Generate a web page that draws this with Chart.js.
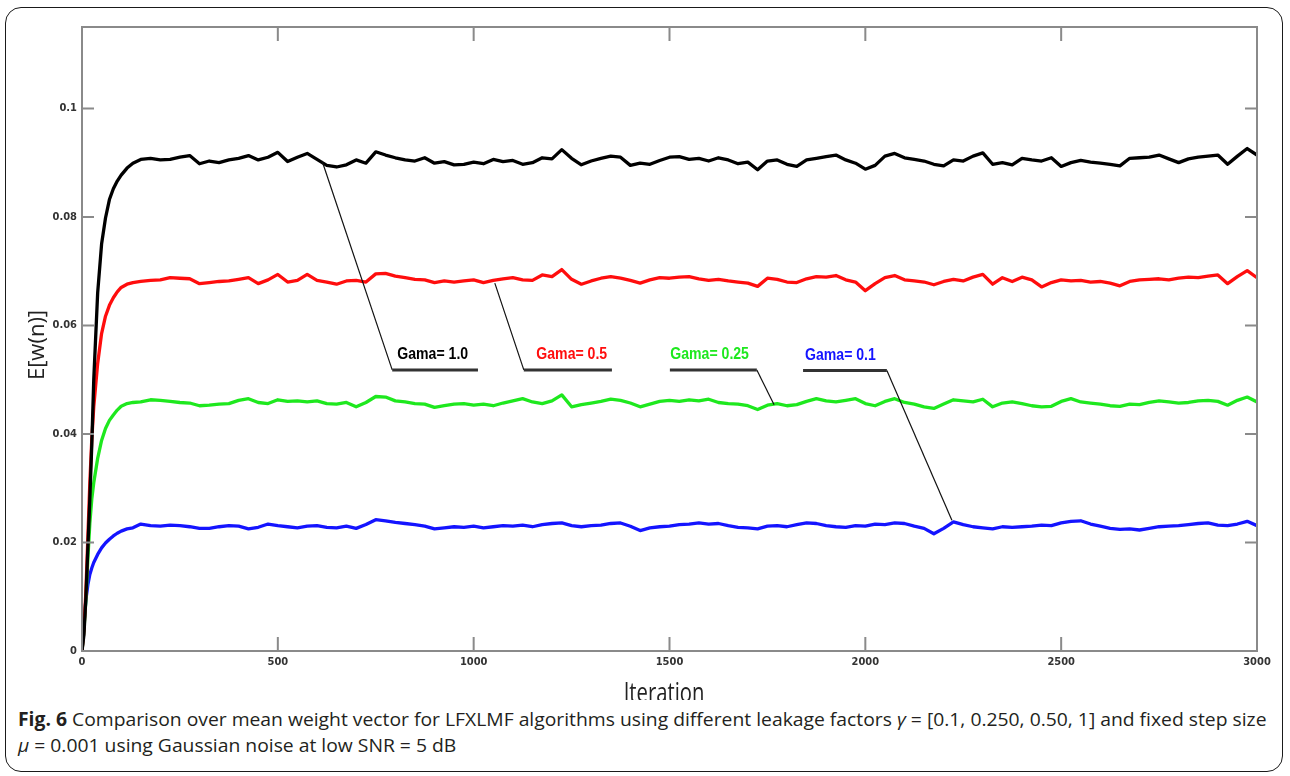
<!DOCTYPE html>
<html>
<head>
<meta charset="utf-8">
<script src="https://cdn.jsdelivr.net/npm/chart.js@4.4.0/dist/chart.umd.min.js"></script>
<style>
  html, body { margin: 0; padding: 0; background: #fff; }
  body { width: 1290px; height: 776px; position: relative; overflow: hidden; }
  #frame { position: absolute; left: 5px; top: 7px; width: 1276px; height: 763px;
           border: 1.5px solid #1a1a1a; border-radius: 16px; }
  #chart { position: absolute; left: 0; top: 0; }
  #caption { position: absolute; left: 18px; top: 706px; font-family: "Open Sans", sans-serif;
             font-size: 19px; line-height: 26px; color: #231f20; white-space: nowrap; }
  #caption div { transform-origin: 0 0; }
</style>
</head>
<body>
<div id="frame"></div>
<canvas id="chart" width="1290" height="700"></canvas>
<div id="caption">
  <div id="cap1"><b>Fig. 6</b> Comparison over mean weight vector for LFXLMF algorithms using different leakage factors <i>γ</i> = [0.1, 0.250, 0.50, 1] and fixed step size</div>
  <div id="cap2"><i>μ</i> = 0.001 using Gaussian noise at low SNR = 5 dB</div>
</div>
<script>
// iteration index of every sample
const iterations = [0, 5, 10, 15, 20, 25, 30, 40, 50, 60, 70, 80, 90, 100, 115, 130, 150, 175, 200,
  225, 250, 275, 300, 325, 350, 375, 400, 425, 450, 475, 500, 525, 550, 575, 600, 625, 650, 675, 700,
  725, 750, 775, 800, 825, 850, 875, 900, 925, 950, 975, 1000, 1025, 1050, 1075, 1100, 1125, 1150, 1175, 1200,
  1225, 1250, 1275, 1300, 1325, 1350, 1375, 1400, 1425, 1450, 1475, 1500, 1525, 1550, 1575, 1600, 1625, 1650, 1675, 1700,
  1725, 1750, 1775, 1800, 1825, 1850, 1875, 1900, 1925, 1950, 1975, 2000, 2025, 2050, 2075, 2100, 2125, 2150, 2175, 2200,
  2225, 2250, 2275, 2300, 2325, 2350, 2375, 2400, 2425, 2450, 2475, 2500, 2525, 2550, 2575, 2600, 2625, 2650, 2675, 2700,
  2725, 2750, 2775, 2800, 2825, 2850, 2875, 2900, 2925, 2950, 2975, 3000];

// E[w(n)] for leakage factor 1.0
const gama10 = [0, 0.003, 0.010, 0.019, 0.028, 0.038, 0.050, 0.066, 0.075, 0.0798, 0.0832, 0.0852, 0.0866, 0.0877, 0.0890, 0.0899, 0.0906, 0.0908, 0.0905,
  0.0906, 0.0910, 0.0913, 0.0898, 0.0903, 0.0900, 0.0905, 0.0908, 0.0913, 0.0905, 0.0910, 0.0919, 0.0902, 0.0910, 0.0917, 0.0906, 0.0895, 0.0892, 0.0896, 0.0905,
  0.0899, 0.0920, 0.0914, 0.0909, 0.0905, 0.0903, 0.0909, 0.0899, 0.0902, 0.0896, 0.0897, 0.0901, 0.0898, 0.0906, 0.0902, 0.0904, 0.0897, 0.0900, 0.0909, 0.0907,
  0.0924, 0.0908, 0.0896, 0.0903, 0.0908, 0.0912, 0.0910, 0.0895, 0.0899, 0.0897, 0.0904, 0.0910, 0.0911, 0.0906, 0.0908, 0.0903, 0.0909, 0.0905, 0.0898, 0.0901,
  0.0887, 0.0903, 0.0905, 0.0897, 0.0893, 0.0905, 0.0908, 0.0911, 0.0914, 0.0905, 0.0899, 0.0888, 0.0895, 0.0912, 0.0917, 0.0909, 0.0906, 0.0903, 0.0897, 0.0894,
  0.0905, 0.0903, 0.0912, 0.0918, 0.0897, 0.0900, 0.0896, 0.0908, 0.0905, 0.0903, 0.0909, 0.0893, 0.0900, 0.0904, 0.0901, 0.0899, 0.0897, 0.0894, 0.0908, 0.0909,
  0.0910, 0.0914, 0.0907, 0.0900, 0.0907, 0.0910, 0.0912, 0.0914, 0.0897, 0.0912, 0.0926, 0.0914];

// leakage factor 0.5
const gama05 = [0, 0.004, 0.011, 0.021, 0.031, 0.039, 0.045, 0.053, 0.0585, 0.0617, 0.0637, 0.0651, 0.0662, 0.0670, 0.0676, 0.0679, 0.0681, 0.0683, 0.0684,
  0.0688, 0.0687, 0.0686, 0.0677, 0.0679, 0.0681, 0.0682, 0.0685, 0.0688, 0.0677, 0.0684, 0.0694, 0.0680, 0.0683, 0.0694, 0.0683, 0.0680, 0.0676, 0.0682, 0.0683,
  0.0680, 0.0695, 0.0696, 0.0691, 0.0688, 0.0685, 0.0684, 0.0679, 0.0682, 0.0680, 0.0682, 0.0684, 0.0679, 0.0683, 0.0686, 0.0688, 0.0684, 0.0683, 0.0693, 0.0690,
  0.0703, 0.0685, 0.0676, 0.0682, 0.0687, 0.0690, 0.0687, 0.0683, 0.0678, 0.0684, 0.0688, 0.0687, 0.0689, 0.0690, 0.0686, 0.0683, 0.0685, 0.0682, 0.0680, 0.0678,
  0.0672, 0.0687, 0.0685, 0.0680, 0.0679, 0.0686, 0.0690, 0.0689, 0.0692, 0.0684, 0.0680, 0.0664, 0.0677, 0.0688, 0.0692, 0.0684, 0.0682, 0.0680, 0.0675, 0.0681,
  0.0685, 0.0682, 0.0689, 0.0694, 0.0676, 0.0688, 0.0681, 0.0689, 0.0684, 0.0671, 0.0679, 0.0684, 0.0682, 0.0683, 0.0680, 0.0681, 0.0678, 0.0673, 0.0681, 0.0684,
  0.0685, 0.0686, 0.0684, 0.0687, 0.0689, 0.0688, 0.0691, 0.0693, 0.0677, 0.0690, 0.0701, 0.0688];

// leakage factor 0.25
const gama025 = [0, 0.004, 0.0095, 0.017, 0.0235, 0.028, 0.031, 0.0355, 0.0388, 0.041, 0.0425, 0.0435, 0.0444, 0.0451, 0.0456, 0.0458, 0.0459, 0.0463, 0.0462,
  0.0460, 0.0458, 0.0457, 0.0452, 0.0453, 0.0455, 0.0456, 0.0462, 0.0465, 0.0458, 0.0456, 0.0463, 0.0460, 0.0461, 0.0459, 0.0461, 0.0456, 0.0455, 0.0458, 0.0450,
  0.0458, 0.0469, 0.0468, 0.0461, 0.0459, 0.0456, 0.0455, 0.0449, 0.0452, 0.0455, 0.0456, 0.0453, 0.0455, 0.0452, 0.0457, 0.0461, 0.0465, 0.0459, 0.0456, 0.0461,
  0.0472, 0.0450, 0.0454, 0.0457, 0.0460, 0.0464, 0.0462, 0.0457, 0.0450, 0.0455, 0.0460, 0.0462, 0.0460, 0.0463, 0.0461, 0.0464, 0.0458, 0.0456, 0.0455, 0.0452,
  0.0445, 0.0453, 0.0456, 0.0452, 0.0454, 0.0460, 0.0465, 0.0461, 0.0459, 0.0462, 0.0465, 0.0456, 0.0452, 0.0460, 0.0465, 0.0458, 0.0455, 0.0450, 0.0447, 0.0455,
  0.0463, 0.0461, 0.0459, 0.0464, 0.0450, 0.0457, 0.0459, 0.0456, 0.0452, 0.0450, 0.0451, 0.0460, 0.0465, 0.0459, 0.0457, 0.0455, 0.0452, 0.0451, 0.0455, 0.0454,
  0.0458, 0.0461, 0.0459, 0.0457, 0.0458, 0.0461, 0.0462, 0.0460, 0.0453, 0.0462, 0.0468, 0.0459];

// leakage factor 0.1
const gama01 = [0, 0.005, 0.0095, 0.0122, 0.0141, 0.0153, 0.0163, 0.0178, 0.0190, 0.0199, 0.0206, 0.0212, 0.0217, 0.0221, 0.0225, 0.0227, 0.0234, 0.0231, 0.0230,
  0.0232, 0.0231, 0.0229, 0.0226, 0.0226, 0.0229, 0.0231, 0.0230, 0.0225, 0.0228, 0.0234, 0.0231, 0.0229, 0.0227, 0.0230, 0.0231, 0.0228, 0.0227, 0.0230, 0.0226,
  0.0233, 0.0242, 0.0240, 0.0237, 0.0235, 0.0233, 0.0230, 0.0225, 0.0227, 0.0229, 0.0228, 0.0230, 0.0227, 0.0229, 0.0231, 0.0230, 0.0232, 0.0229, 0.0233, 0.0235,
  0.0236, 0.0231, 0.0229, 0.0231, 0.0232, 0.0235, 0.0236, 0.0230, 0.0222, 0.0227, 0.0229, 0.0230, 0.0233, 0.0234, 0.0236, 0.0234, 0.0235, 0.0231, 0.0228, 0.0227,
  0.0225, 0.0230, 0.0231, 0.0229, 0.0233, 0.0236, 0.0235, 0.0231, 0.0229, 0.0228, 0.0231, 0.0230, 0.0234, 0.0233, 0.0236, 0.0235, 0.0230, 0.0226, 0.0216, 0.0226,
  0.0238, 0.0233, 0.0229, 0.0227, 0.0225, 0.0229, 0.0228, 0.0229, 0.0230, 0.0232, 0.0231, 0.0236, 0.0239, 0.0240, 0.0234, 0.0230, 0.0226, 0.0224, 0.0225, 0.0223,
  0.0226, 0.0229, 0.0230, 0.0231, 0.0233, 0.0235, 0.0236, 0.0232, 0.0231, 0.0234, 0.0239, 0.0231];

const seriesLabels = ['Gama= 1.0', 'Gama= 0.5', 'Gama= 0.25', 'Gama= 0.1'];
const seriesColors = ['#000000', '#ff0d0d', '#1ee81e', '#1414ff'];
const seriesValues = [gama10, gama05, gama025, gama01];

const xTickValues = [0, 500, 1000, 1500, 2000, 2500, 3000];
const yTickValues = [0, 0.02, 0.04, 0.06, 0.08, 0.1];

// callout for each curve: label anchor, thin leader and thick underline (data units)
const callouts = [
  { text: seriesLabels[0], at: [805, 0.0538], leader: [[613, 0.0903], [792, 0.0518]], under: [[792, 0.0518], [1011, 0.0518]] },
  { text: seriesLabels[1], at: [1160, 0.0538], leader: [[1054, 0.0678], [1128, 0.0518]], under: [[1128, 0.0518], [1353, 0.0518]] },
  { text: seriesLabels[2], at: [1502, 0.0538], leader: [[1723, 0.0518], [1767, 0.0454]], under: [[1501, 0.0518], [1723, 0.0518]] },
  { text: seriesLabels[3], at: [1846, 0.0537], leader: [[2055, 0.0517], [2221, 0.0241]], under: [[1841, 0.0517], [2055, 0.0517]] }
];

const narrow = '"Liberation Sans Narrow", "DejaVu Sans Condensed", "Liberation Sans", sans-serif';

const boxAndNotes = {
  id: 'boxAndNotes',
  afterDatasetsDraw(chart) {
    const { ctx, chartArea: a, scales: { x, y } } = chart;
    ctx.save();

    // leaders and labels
    callouts.forEach((c, i) => {
      ctx.strokeStyle = '#111';
      ctx.lineWidth = 1.2;
      ctx.beginPath();
      ctx.moveTo(x.getPixelForValue(c.leader[0][0]), y.getPixelForValue(c.leader[0][1]));
      ctx.lineTo(x.getPixelForValue(c.leader[1][0]), y.getPixelForValue(c.leader[1][1]));
      ctx.stroke();
      ctx.strokeStyle = '#333';
      ctx.lineWidth = 3;
      ctx.beginPath();
      ctx.moveTo(x.getPixelForValue(c.under[0][0]), y.getPixelForValue(c.under[0][1]));
      ctx.lineTo(x.getPixelForValue(c.under[1][0]), y.getPixelForValue(c.under[1][1]));
      ctx.stroke();

      ctx.save();
      ctx.translate(x.getPixelForValue(c.at[0]), y.getPixelForValue(c.at[1]));
      ctx.scale(0.88, 1);
      ctx.font = 'bold 16px "Liberation Sans", sans-serif';
      ctx.fillStyle = seriesColors[i];
      ctx.textAlign = 'left';
      ctx.textBaseline = 'alphabetic';
      ctx.fillText(c.text, 0, 0);
      ctx.restore();
    });

    // matlab style box with inward ticks
    ctx.strokeStyle = '#8a8a8a';
    ctx.lineWidth = 2;
    ctx.strokeRect(a.left, a.top, a.right - a.left, a.bottom - a.top);
    ctx.beginPath();
    xTickValues.forEach(v => {
      const px = x.getPixelForValue(v);
      ctx.moveTo(px, a.bottom); ctx.lineTo(px, a.bottom - 14);
      ctx.moveTo(px, a.top); ctx.lineTo(px, a.top + 14);
    });
    yTickValues.forEach(v => {
      const py = y.getPixelForValue(v);
      ctx.moveTo(a.left, py); ctx.lineTo(a.left + 12, py);
      ctx.moveTo(a.right, py); ctx.lineTo(a.right - 12, py);
    });
    ctx.stroke();

    // axis titles
    ctx.fillStyle = '#222';
    ctx.textAlign = 'center';
    ctx.textBaseline = 'alphabetic';
    ctx.save();
    ctx.translate(664, 702);
    ctx.scale(0.75, 1);
    ctx.font = '27px "Open Sans", sans-serif';
    ctx.fillText('Iteration', 0, 0);
    ctx.restore();

    ctx.save();
    ctx.translate(44, 345);
    ctx.rotate(-Math.PI / 2);
    ctx.font = '22px "Open Sans", sans-serif';
    ctx.fillText('E[w(n)]', 0, 0);
    ctx.restore();

    ctx.restore();
  }
};

new Chart(document.getElementById('chart'), {
  type: 'line',
  data: {
    datasets: seriesValues.map((vals, i) => ({
      label: seriesLabels[i],
      data: iterations.map((it, k) => ({ x: it, y: vals[k] })),
      borderColor: seriesColors[i],
      borderWidth: 3.3,
      pointRadius: 0,
      tension: 0,
      borderJoinStyle: 'round'
    }))
  },
  options: {
    responsive: false,
    animation: false,
    devicePixelRatio: 1,
    layout: { padding: { top: 27, right: 33, left: 0, bottom: 0 } },
    plugins: { legend: { display: false }, tooltip: { enabled: false } },
    scales: {
      x: {
        type: 'linear',
        min: 0,
        max: 3000,
        afterFit: s => { s.height = 49; },
        grid: { display: false, drawTicks: false },
        border: { display: false },
        ticks: {
          stepSize: 500,
          maxRotation: 0,
          padding: 5,
          color: '#333',
          font: { family: narrow, size: 11, weight: 'bold' },
          callback: v => String(v)
        }
      },
      y: {
        min: 0,
        max: 0.115,
        afterFit: s => { s.width = 82; },
        grid: { display: false, drawTicks: false },
        border: { display: false },
        ticks: {
          stepSize: 0.02,
          includeBounds: false,
          padding: 5,
          color: '#333',
          font: { family: narrow, size: 11, weight: 'bold' },
          callback: v => String(+v.toFixed(2))
        }
      }
    }
  },
  plugins: [boxAndNotes]
});

// squeeze the caption to the width of the printed figure caption
const cap1 = document.getElementById('cap1');
const cap2 = document.getElementById('cap2');
const k = 1249 / cap1.scrollWidth;
cap1.style.transform = cap2.style.transform = 'scaleX(' + k + ')';
</script>
</body>
</html>
